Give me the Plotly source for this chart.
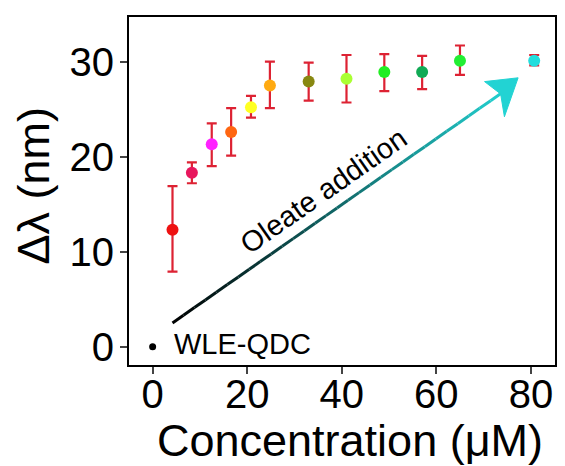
import plotly.graph_objects as go

# Data
conc = [4.2, 8.3, 12.5, 16.6, 20.8, 24.8, 33.0, 41.0, 49.0, 57.0, 65.0, 80.7]
shift = [12.3, 18.3, 21.3, 22.6, 25.2, 27.5, 27.9, 28.2, 28.9, 28.9, 30.1, 30.1]
err_up = [4.6, 1.1, 2.2, 2.5, 1.2, 2.5, 2.0, 2.5, 1.9, 1.7, 1.6, 0.6]
err_down = [4.4, 1.1, 2.3, 2.5, 1.1, 2.4, 2.0, 2.5, 2.0, 1.8, 1.5, 0.5]
point_colors = ["#ee1111", "#e8175d", "#ff22ff", "#ff6611", "#ffff22", "#ffaa11",
                "#888811", "#aaff33", "#22ee22", "#11aa55", "#22ee33", "#22dddd"]
ref_x = [0]
ref_y = [0]
x_ticks = [0, 20, 40, 60, 80]
y_ticks = [0, 10, 20, 30]

FONT = "Liberation Sans, Arial, sans-serif"

fig = go.Figure()
fig.add_trace(go.Scatter(
    x=conc, y=shift, mode="markers",
    marker=dict(size=12, color=point_colors, line=dict(width=0)),
    error_y=dict(type="data", symmetric=False, array=err_up, arrayminus=err_down,
                 color="#dd2233", thickness=2.2, width=5),
    showlegend=False,
))
fig.add_trace(go.Scatter(
    x=ref_x, y=ref_y, mode="markers",
    marker=dict(size=7, color="black"), showlegend=False,
))

# Gradient arrow shaft (black -> cyan)
x0, y0 = 4.2, 2.5
x1, y1 = 73.8, 26.7
n = 30
c0 = (0, 0, 0)
c1 = (0x22, 0xd0, 0xd0)
for i in range(n):
    t0, t1 = i / n, (i + 1) / n
    tm = (t0 + t1) / 2
    col = "rgb(%d,%d,%d)" % tuple(int(c0[k] + (c1[k] - c0[k]) * tm) for k in range(3))
    fig.add_shape(type="line",
                  x0=x0 + (x1 - x0) * t0, y0=y0 + (y1 - y0) * t0,
                  x1=x0 + (x1 - x0) * t1, y1=y0 + (y1 - y0) * t1,
                  line=dict(color=col, width=3), layer="above")
# Arrow head
fig.add_shape(type="path",
              path="M 77.3 28.3 L 70.2 27.9 L 73.6 26.6 L 74.4 24.2 Z",
              fillcolor="#22d3d3", line=dict(color="#22d3d3", width=1))

fig.add_annotation(x=(324 - 152.7) / 4.75, y=(346.7 - 191) / 9.5,
                   text="Oleate addition", showarrow=False, textangle=-35,
                   font=dict(family=FONT, size=29, color="black"))
fig.add_annotation(x=4.0, y=0.3, text="WLE-QDC", showarrow=False,
                   xanchor="left", yanchor="middle",
                   font=dict(family=FONT, size=29, color="black"))

# Axis titles placed as annotations in paper coordinates
plot_w, plot_h = 565 - 129 - 8, 466 - 17 - 101
fig.add_annotation(xref="paper", yref="paper",
                   x=(351 - 129) / plot_w, y=-(440 - 365) / plot_h,
                   text="Concentration (μM)", showarrow=False,
                   xanchor="center", yanchor="middle",
                   font=dict(family=FONT, size=45, color="black"))
fig.add_annotation(xref="paper", yref="paper",
                   x=-(129 - 33) / plot_w, y=(365 - 185) / plot_h,
                   text="Δλ (nm)", showarrow=False, textangle=-90,
                   xanchor="center", yanchor="middle",
                   font=dict(family=FONT, size=45, color="black"))

fig.update_layout(
    width=565, height=466,
    margin=dict(l=129, r=8, t=17, b=101),
    plot_bgcolor="white", paper_bgcolor="white",
    font=dict(family=FONT, color="black"),
    xaxis=dict(range=[-5.0, 85.1], tickvals=x_ticks, ticks="outside", ticklen=7,
               tickwidth=2, showline=True, linewidth=2, linecolor="black", mirror=True,
               showgrid=False, zeroline=False, tickfont=dict(size=40),
               ticklabelstandoff=-14),
    yaxis=dict(range=[-1.93, 34.7], tickvals=y_ticks, ticks="outside", ticklen=7,
               tickwidth=2, showline=True, linewidth=2, linecolor="black", mirror=True,
               showgrid=False, zeroline=False, tickfont=dict(size=40),
               ticklabelstandoff=-2),
)

fig.write_html("out.html")
